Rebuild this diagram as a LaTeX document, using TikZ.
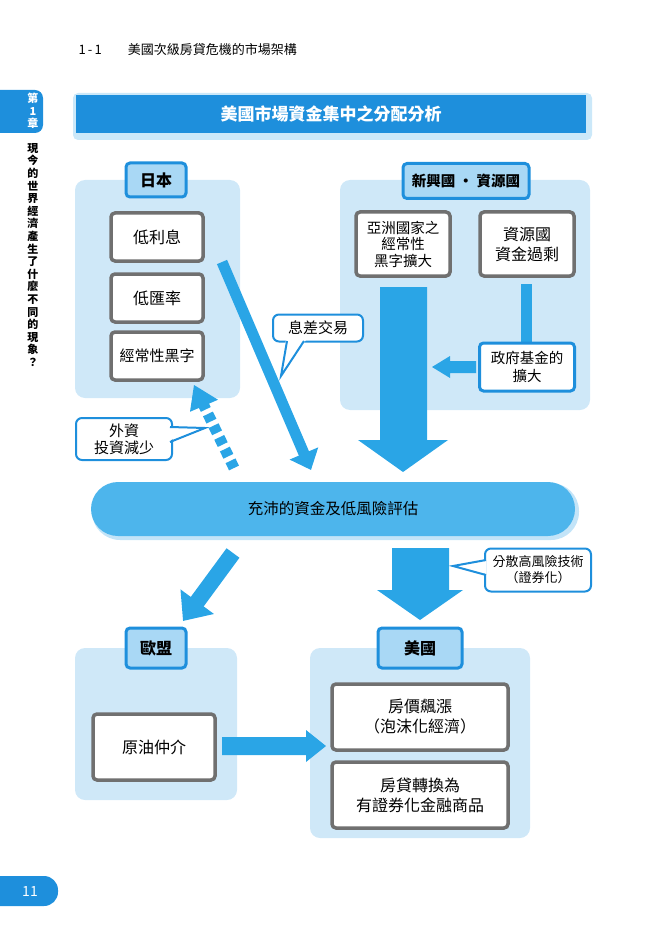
\documentclass[tikz,border=0pt]{standalone}
\usepackage{fontspec}
\setmainfont{Noto Sans CJK TC}
\usetikzlibrary{arrows.meta,shapes.callouts,calc}
\definecolor{mblue}{HTML}{2AA5E6}
\definecolor{dblue}{HTML}{1E8FDC}
\definecolor{lpanel}{HTML}{CFE8F8}
\definecolor{lab}{HTML}{A9D8F5}
\definecolor{gborder}{HTML}{707070}
\definecolor{pill}{HTML}{4DB5EC}
\newcommand{\fs}[2]{\fontsize{#1}{#2}\selectfont}
\tikzset{
  panel/.style={fill=lpanel,rounded corners=10pt,draw=none},
  tag/.style={fill=lab,draw=dblue,line width=3pt,rounded corners=4pt,font=\bfseries\fs{16}{19},inner sep=0pt},
  gbox/.style={fill=white,draw=gborder,line width=3.5pt,rounded corners=4pt,align=center,font=\fs{16}{20},inner sep=0pt},
  bbox/.style={fill=white,draw=dblue,line width=3pt,rounded corners=4pt,align=center,font=\fs{14.5}{18},inner sep=0pt},
  call/.style={fill=white,draw=dblue,line width=2pt,rounded corners=6pt,align=center,inner sep=2pt},
  blk/.style={fill=mblue,draw=none},
}
\begin{document}
\begin{tikzpicture}[x=1pt,y=-1pt]
\useasboundingbox (0,0) rectangle (663,941);
% header
\node[anchor=west,font=\fs{13}{15}] (hd) at (75,50) {1\,-\,1\qquad 美國次級房貸危機的市場架構};
% side tab
\fill[dblue,rounded corners=8pt] (-10,90) rectangle (43,133);
\node[text=white,font=\bfseries\fs{11}{12.5},align=center,inner sep=0pt,text width=12pt] (ch) at (33,111) {第\\1\\章};
\node[font=\bfseries\fs{11}{12.6},align=center,inner sep=0pt,text width=12pt,anchor=north] (side) at (33,143) {現\\今\\的\\世\\界\\經\\濟\\產\\生\\了\\什\\麼\\不\\同\\的\\現\\象\\？};
% page tab
\fill[dblue,rounded corners=14pt] (-20,876) rectangle (58,906);
\node[text=white,font=\fs{14}{16}] (pg) at (30,891) {11};
% title
\fill[lab!60,rounded corners=5pt] (73,93) rectangle (592,140);
\node[fill=dblue,minimum width=510pt,minimum height=38pt,text=white,font=\bfseries\fs{17}{20},inner sep=0pt] (title) at (331,114) {美國市場資金集中之分配分析};
% Japan panel
\fill[panel] (75,180) rectangle (240,398);
\node[tag,minimum width=60pt,minimum height=34pt] (jp) at (156,180) {日本};
\node[gbox,minimum width=92pt,minimum height=48pt] (b1) at (157,237) {低利息};
\node[gbox,minimum width=92pt,minimum height=48pt] (b2) at (157,298) {低匯率};
\node[gbox,minimum width=92pt,minimum height=48pt,font=\fs{15}{18}] (b3) at (157,356) {經常性黑字};
% right panel
\fill[panel] (340,180) rectangle (590,410);
\node[tag,minimum width=126pt,minimum height=35pt,font=\bfseries\fs{14.5}{17}] (ng) at (466,181) {新興國 · 資源國};
\node[gbox,minimum width=94pt,minimum height=64pt,font=\fs{14.5}{16.5}] (asia) at (403,244) {亞洲國家之\\經常性\\黑字擴大};
\node[gbox,minimum width=94pt,minimum height=64pt,font=\fs{16}{20}] (res) at (527,244) {資源國\\資金過剩};
\fill[mblue] (521,284) rectangle (532,345);
\node[bbox,minimum width=95pt,minimum height=48pt] (gov) at (527,367) {政府基金的\\擴大};
% left arrow from gov
\fill[blk] ($(gov.west)+(-2,-6)$) -- (450,361) -- (450,356) -- (432,367) -- (450,378) -- (450,373) -- ($(gov.west)+(-2,6)$) -- cycle;
% big down arrow
\coordinate (bd) at (403,472);
\fill[blk] (380,287) -- (427,287) -- (427,440) -- (448,440) -- (bd) -- (358,440) -- (380,440) -- cycle;
% pill
\fill[lab!70,rounded corners=28pt] (92,483) rectangle (579,540);
\node[fill=pill,rounded corners=27pt,minimum width=484pt,minimum height=54pt,font=\fs{15.5}{18},inner sep=0pt] (pl) at (333,509) {充沛的資金及低風險評估};
% diagonal arrow from low interest
\coordinate (d1s) at (222,262);
\coordinate (d1e) at (311,470);
\draw[mblue,line width=11pt,-{Triangle[length=18pt,width=30pt]}] (d1s) -- (d1e);
% callout 息差交易
\node[call,minimum width=90pt,minimum height=27pt,font=\fs{15}{18}] (ix) at (318,328) {息差交易};
\fill[white] (286,339) -- (281,376) -- (306,340) -- cycle;
\draw[dblue,line width=2pt] (287,341) -- (281,376) -- (304,341);
% dashed arrow
\coordinate (d2s) at (234,468);
\coordinate (d2e) at (194,385);
\draw[mblue,line width=11pt,dash pattern=on 8pt off 5pt] (d2s) -- ($(d2s)!0.78!(d2e)$);
\fill[mblue] (d2e) -- ($(d2s)!0.75!(d2e)+(-14,6)$) -- ($(d2s)!0.75!(d2e)+(14,-6)$) -- cycle;
% callout 外資
\node[call,minimum width=96pt,minimum height=42pt,font=\fs{15}{17}] (wz) at (124,439) {外資\\投資減少};
\fill[white] (168,428) -- (205,428) -- (168,441) -- cycle;
\draw[dblue,line width=2pt] (170,427) -- (205,428) -- (170,442);
% down arrow to US
\coordinate (ud) at (420,620);
\fill[blk] (392,548) -- (449,548) -- (449,590) -- (463,590) -- (ud) -- (377,590) -- (392,590) -- cycle;
% callout 分散
\node[call,minimum width=106pt,minimum height=43pt,font=\fs{13}{16}] (fs) at (538,570) {分散高風險技術\\（證券化）};
\fill[white] (486,561) -- (453,566) -- (486,574) -- cycle;
\draw[dblue,line width=2pt] (486,560) -- (453,566) -- (486,575);
% diagonal arrow to EU
\coordinate (eus) at (233,553);
\coordinate (eue) at (183,621);
\draw[mblue,line width=16pt,-{Triangle[length=24pt,width=40pt]}] (eus) -- (eue);
% EU panel
\fill[panel] (75,648) rectangle (237,800);
\node[tag,minimum width=60pt,minimum height=40pt] (eu) at (156,648) {歐盟};
\node[gbox,minimum width=122pt,minimum height=66pt] (oil) at (154,747) {原油仲介};
% US panel
\fill[panel] (310,648) rectangle (530,838);
\node[tag,minimum width=84pt,minimum height=40pt] (us) at (420,648) {美國};
\node[gbox,minimum width=176pt,minimum height=66pt] (u1) at (420,717) {房價飆漲\\（泡沫化經濟）};
\node[gbox,minimum width=176pt,minimum height=66pt] (u2) at (420,795) {房貸轉換為\\有證券化金融商品};
% right arrow
\coordinate (ra) at (326,746);
\fill[blk] (222,737) -- (306,737) -- (306,730) -- (ra) -- (306,762) -- (306,755) -- (222,755) -- cycle;
\end{tikzpicture}
\end{document}
